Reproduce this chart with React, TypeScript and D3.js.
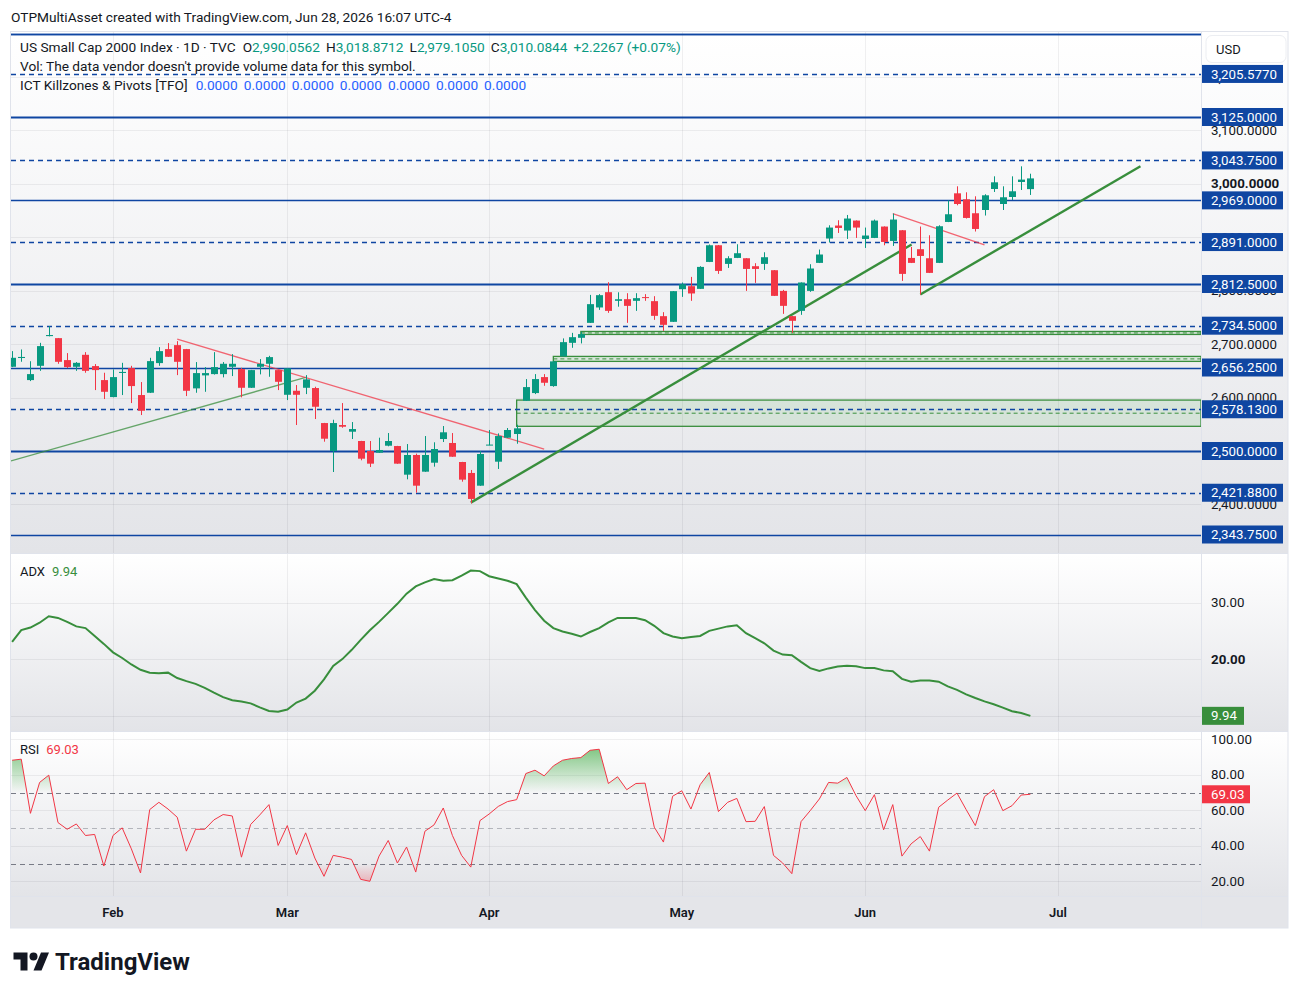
import React from "react";
import * as d3 from "d3";

// daily OHLC, Jan 15 – Jun 26
const open = [
  2657.6, 2674.0, 2632.7, 2659.4, 2715.0, 2711.2, 2670.1, 2657.6, 2680.0, 2658.9,
  2632.7, 2600.9, 2646.0, 2655.1, 2604.7, 2609.0, 2664.5, 2690.7, 2698.1, 2690.7,
  2617.2, 2641.5, 2643.9, 2643.9, 2657.6, 2653.3, 2618.3, 2657.6, 2663.2, 2651.4,
  2605.2, 2612.7, 2618.3, 2617.8, 2552.3, 2500.0, 2548.6, 2536.1, 2518.7, 2500.0,
  2496.8, 2509.9, 2509.3, 2455.7, 2492.5, 2461.3, 2478.1, 2522.4, 2515.0, 2479.4,
  2458.9, 2435.1, 2511.2, 2480.0, 2524.9, 2531.8, 2594.0, 2608.4, 2638.3, 2621.5,
  2677.0, 2702.4, 2711.8, 2739.8, 2768.6, 2797.2, 2781.0, 2784.1, 2781.0, 2788.0,
  2780.4, 2752.3, 2741.7, 2802.8, 2808.4, 2803.4, 2853.8, 2885.0, 2850.1, 2861.3,
  2860.7, 2845.8, 2850.1, 2838.3, 2799.6, 2752.3, 2762.2, 2799.6, 2852.0, 2897.6,
  2921.9, 2912.5, 2931.2, 2896.8, 2898.7, 2920.0, 2893.1, 2913.1, 2861.3, 2877.6,
  2860.7, 2852.0, 2928.6, 2982.2, 2971.0, 2944.9, 2951.0, 2990.3, 2962.2, 2975.3,
  3003.4, 2990.0562,
];
const high = [
  2686.9, 2690.0, 2668.0, 2702.4, 2733.6, 2711.5, 2683.2, 2666.4, 2685.0, 2662.6,
  2646.4, 2652.7, 2665.0, 2659.4, 2629.0, 2674.4, 2694.4, 2701.9, 2705.6, 2691.0,
  2666.4, 2657.0, 2685.0, 2666.4, 2681.3, 2655.7, 2651.8, 2672.0, 2678.1, 2651.8,
  2655.0, 2623.4, 2642.0, 2620.2, 2552.6, 2558.5, 2589.7, 2554.2, 2519.0, 2518.7,
  2524.9, 2533.6, 2509.6, 2513.0, 2495.0, 2528.0, 2516.3, 2546.7, 2533.6, 2479.7,
  2464.5, 2500.0, 2539.3, 2533.0, 2543.0, 2549.2, 2634.6, 2643.9, 2643.9, 2667.9,
  2710.7, 2721.1, 2723.0, 2792.1, 2793.5, 2815.9, 2797.0, 2795.3, 2795.3, 2793.5,
  2789.7, 2759.8, 2799.4, 2815.3, 2825.8, 2845.8, 2886.4, 2885.5, 2864.5, 2886.9,
  2861.0, 2851.4, 2871.9, 2838.6, 2801.5, 2752.6, 2815.5, 2849.5, 2877.0, 2922.4,
  2931.8, 2941.7, 2931.5, 2918.1, 2933.1, 2920.3, 2944.3, 2913.4, 2881.9, 2920.0,
  2903.7, 2922.4, 2969.2, 2995.3, 2984.1, 2976.6, 2980.4, 3014.0, 2995.3, 3014.0,
  3032.7, 3018.8712,
];
const low = [
  2657.0, 2667.0, 2630.8, 2650.0, 2714.5, 2663.2, 2655.1, 2650.0, 2646.4, 2614.0,
  2597.2, 2600.5, 2604.7, 2589.7, 2567.3, 2608.5, 2659.4, 2676.0, 2642.0, 2602.8,
  2609.0, 2610.8, 2643.0, 2637.8, 2640.2, 2600.4, 2617.9, 2643.4, 2638.9, 2614.0,
  2595.3, 2548.6, 2606.5, 2559.8, 2517.4, 2460.7, 2543.5, 2522.4, 2482.6, 2470.0,
  2496.4, 2508.8, 2476.0, 2447.0, 2422.0, 2461.0, 2470.7, 2516.8, 2489.0, 2442.6,
  2402.2, 2434.8, 2510.8, 2466.4, 2524.5, 2513.6, 2593.7, 2606.5, 2622.0, 2620.2,
  2676.7, 2693.1, 2701.3, 2739.5, 2764.1, 2758.5, 2770.0, 2739.8, 2762.2, 2781.0,
  2745.4, 2724.9, 2741.4, 2788.4, 2781.0, 2803.1, 2853.5, 2831.4, 2842.6, 2861.0,
  2799.6, 2814.6, 2838.9, 2790.0, 2756.6, 2721.1, 2754.8, 2797.8, 2851.7, 2890.1,
  2908.0, 2896.8, 2898.7, 2880.0, 2898.4, 2885.0, 2883.7, 2818.3, 2851.7, 2792.9,
  2833.0, 2851.7, 2928.3, 2959.8, 2935.0, 2910.7, 2940.6, 2984.7, 2951.0, 2969.7,
  2988.4, 2979.105,
];
const close = [
  2674.4, 2676.0, 2643.9, 2696.3, 2717.0, 2666.9, 2657.0, 2665.0, 2650.0, 2651.4,
  2610.8, 2638.3, 2648.0, 2621.5, 2575.3, 2668.2, 2686.9, 2676.3, 2666.9, 2612.7,
  2645.8, 2645.8, 2657.0, 2663.2, 2663.2, 2618.3, 2651.4, 2663.2, 2675.7, 2629.5,
  2654.6, 2605.2, 2634.0, 2582.8, 2523.0, 2552.3, 2545.4, 2541.1, 2485.6, 2476.3,
  2501.9, 2518.7, 2476.3, 2492.5, 2435.1, 2492.5, 2503.7, 2535.0, 2489.3, 2446.4,
  2410.3, 2494.4, 2512.0, 2528.0, 2539.3, 2542.4, 2619.6, 2634.6, 2627.7, 2667.7,
  2703.7, 2713.0, 2718.7, 2774.8, 2791.6, 2762.2, 2784.0, 2771.6, 2786.0, 2787.0,
  2752.9, 2736.1, 2799.1, 2812.1, 2794.8, 2844.5, 2885.0, 2837.0, 2860.7, 2870.1,
  2840.7, 2840.7, 2862.6, 2790.3, 2771.6, 2743.6, 2815.3, 2841.5, 2867.7, 2918.1,
  2917.4, 2935.0, 2918.1, 2903.2, 2931.2, 2891.2, 2933.1, 2831.4, 2852.0, 2865.0,
  2833.3, 2920.6, 2943.0, 2962.2, 2936.1, 2915.5, 2978.5, 3002.8, 2974.8, 2986.0,
  3007.8577, 3010.0844,
];

const adx = [
  23.05, 25.15, 25.6, 26.45, 27.6, 27.3, 26.6, 25.8, 25.5, 24.1,
  22.7, 21.2, 20.2, 19.05, 18.1, 17.6, 17.5, 17.6, 16.65, 16.1,
  15.6, 14.9, 14.05, 13.25, 12.7, 12.5, 12.15, 11.45, 10.8, 10.65,
  11.05, 12.3, 13.0, 14.4, 16.4, 18.8, 20.0, 21.6, 23.4, 25.1,
  26.6, 28.2, 29.8, 31.6, 32.9, 33.6, 34.2, 33.9, 34.0, 34.8,
  35.7, 35.6, 34.7, 34.3, 33.9, 33.3, 30.9, 28.7, 26.8, 25.5,
  24.9, 24.5, 24.0, 24.8, 25.5, 26.5, 27.3, 27.3, 27.3, 26.9,
  25.9, 24.6, 24.0, 23.7, 23.9, 24.1, 25.0, 25.4, 25.8, 26.0,
  24.6, 23.7, 22.8, 21.5, 20.8, 20.7, 19.5, 18.4, 17.9, 18.35,
  18.7, 18.8, 18.75, 18.4, 18.4, 18.0, 17.85, 16.5, 16.0, 16.2,
  16.2, 16.0, 15.15, 14.55, 13.75, 13.1, 12.5, 12.0, 11.4, 10.75,
  10.45, 9.94,
];

const rsi = [
  88.2, 88.8, 58.3, 75.7, 79.8, 53.1, 49.3, 52.3, 45.8, 46.4,
  28.6, 45.8, 50.1, 38.3, 24.7, 60.4, 64.5, 60.7, 56.1, 37.0,
  49.3, 49.3, 54.6, 57.6, 56.8, 33.6, 52.0, 57.4, 63.2, 40.2,
  51.4, 35.0, 47.3, 33.1, 22.8, 34.6, 33.6, 32.3, 21.1, 20.0,
  34.2, 43.0, 30.3, 39.3, 25.2, 48.2, 51.8, 61.3, 45.8, 34.6,
  28.0, 54.2, 57.9, 62.2, 64.9, 66.0, 80.7, 82.6, 79.4, 85.0,
  88.2, 89.2, 89.7, 93.8, 94.4, 75.1, 78.9, 71.6, 75.1, 75.3,
  50.5, 42.1, 67.9, 71.0, 60.7, 74.4, 81.3, 59.3, 64.5, 66.7,
  53.6, 53.8, 62.1, 34.6, 30.3, 24.3, 53.6, 59.8, 66.4, 75.7,
  75.3, 78.5, 68.2, 59.8, 68.8, 49.0, 63.2, 34.2, 41.1, 45.2,
  37.0, 61.7, 65.8, 69.7, 60.4, 51.4, 67.7, 71.6, 59.8, 62.6,
  68.6, 69.03,
];

// month labels and the bar index of each month's first session
const months = ["Feb", "Mar", "Apr", "May", "Jun", "Jul"];
const monthBars = [11, 30, 52, 73, 93, 114];

// pivot levels (ICT Killzones & Pivots)
const pivotLevels = [
  3281.25, 3205.577, 3125, 3043.75, 2969, 2891, 2812.5, 2734.5, 2656.25,
  2578.13, 2500, 2421.88, 2343.75,
];

const priceTicks = [2400, 2500, 2600, 2700, 2800, 2900, 3000, 3100, 3200];
const adxTicks = [10, 20, 30, 40];
const rsiTicks = [20, 40, 60, 80, 100];
const rsiBands = [70, 50, 30];

// fair value gaps: first bar, top, bottom
const gapStart = [55, 59, 62];
const gapTop = [2595.3, 2677.0, 2723.7];
const gapBottom = [2546.2, 2667.7, 2718.1];

// drawn trend lines: [bar, price] -> [bar, price]
const trendLines = [
  { kind: "support-old", a: [-0.12, 2481.3], b: [32.0, 2637.8] },
  { kind: "resistance", a: [18, 2709.3], b: [58, 2503.7] },
  { kind: "support", a: [50, 2403.4], b: [98.05, 2886.4] },
  { kind: "resistance", a: [96, 2944.3], b: [106, 2885.6] },
  { kind: "support", a: [99, 2792.9], b: [123, 3032.7] },
];

const UP = "#089981";
const DOWN = "#f23645";
const LEVEL = "#0f46a2";
const GREEN = "#388e3c";
const TEXT = "#131722";
const GRID = "rgba(42,46,57,0.07)";
const BORDER = "#e0e3eb";
const FONT = "Roboto, 'Noto Sans', sans-serif";
const LEGEND_SIZE = 13.7;

const left = 11;
const right = 1201;
const mainTop = 32;
const mainBottom = 553;
const adxTop = 554;
const adxBottom = 731;
const rsiTop = 732;
const rsiBottom = 896;
const axisBottom = 928;
const frameRight = 1288;

export default function App() {
  const n = close.length;
  const x = d3.scaleLinear().domain([-0.12, 129.6]).range([left, right]);
  const yP = d3.scaleLinear().domain([2500, 3125]).range([451, 117]);
  const yA = d3.scaleLinear().domain([10, 30]).range([715.5, 602.7]);
  const yR = d3.scaleLinear().domain([20, 100]).range([881.3, 739.3]);
  const idx = d3.range(n);
  const bodyW = 7;

  const fmt4 = d3.format(",.4f");
  const fmt2 = d3.format(".2f");
  const last = n - 1;
  const chg = close[last] - close[last - 1];
  const chgPct = (chg / close[last - 1]) * 100;

  const adxLine = d3
    .line<number>()
    .x((i) => x(i))
    .y((i) => yA(adx[i]))(idx);
  const rsiLine = d3
    .line<number>()
    .x((i) => x(i))
    .y((i) => yR(rsi[i]))(idx);
  const rsiOver = d3
    .area<number>()
    .x((i) => x(i))
    .y0(yR(70))
    .y1((i) => yR(rsi[i]))(idx);
  const rsiUnder = d3
    .area<number>()
    .x((i) => x(i))
    .y0(yR(30))
    .y1((i) => yR(rsi[i]))(idx);

  const paneBg = (y0: number, y1: number) => (
    <rect x={left - 1} y={y0} width={frameRight - left + 1} height={y1 - y0} fill="url(#paneGrad)" />
  );

  const valueBox = (y: number, label: string, fill: string, w = 81) => (
    <g key={label + y}>
      <rect x={1202} y={y - 9} width={w} height={18} fill={fill} />
      <text x={1211} y={y} dy="0.35em" fill="#fff" fontSize={13.3}>
        {label}
      </text>
    </g>
  );

  return (
    <div style={{ position: "absolute", left: 0, top: 0 }}>
      <svg width={1299} height={996} style={{ display: "block", fontFamily: FONT }}>
        <defs>
          <linearGradient id="paneGrad" x1="0" y1="0" x2="0" y2="1">
            <stop offset="0" stopColor="#ffffff" />
            <stop offset="1" stopColor="#e3e4e8" />
          </linearGradient>
          <linearGradient id="overGrad" gradientUnits="userSpaceOnUse" x1="0" y1={yR(100)} x2="0" y2={yR(70)}>
            <stop offset="0" stopColor="#4caf50" stopOpacity={0.85} />
            <stop offset="1" stopColor="#4caf50" stopOpacity={0} />
          </linearGradient>
          <linearGradient id="underGrad" gradientUnits="userSpaceOnUse" x1="0" y1={yR(30)} x2="0" y2={yR(0)}>
            <stop offset="0" stopColor="#f23645" stopOpacity={0} />
            <stop offset="1" stopColor="#f23645" stopOpacity={0.85} />
          </linearGradient>
          <clipPath id="mainClip">
            <rect x={left} y={mainTop} width={right - left} height={mainBottom - mainTop} />
          </clipPath>
          <clipPath id="adxClip">
            <rect x={left} y={adxTop} width={right - left} height={adxBottom - adxTop} />
          </clipPath>
          <clipPath id="overClip">
            <rect x={left} y={rsiTop} width={right - left} height={yR(70) - rsiTop} />
          </clipPath>
          <clipPath id="underClip">
            <rect x={left} y={yR(30)} width={right - left} height={rsiBottom - yR(30)} />
          </clipPath>
        </defs>

        <rect width={1299} height={996} fill="#fff" />

        <text x={11} y={17} dy="0.35em" fontSize={LEGEND_SIZE} fill={TEXT}>
          OTPMultiAsset created with TradingView.com, Jun 28, 2026 16:07 UTC-4
        </text>

        {/* pane backgrounds */}
        {paneBg(mainTop, mainBottom)}
        {paneBg(adxTop, adxBottom)}
        {paneBg(rsiTop, rsiBottom)}
        <rect x={left - 1} y={rsiBottom} width={frameRight - left + 1} height={axisBottom - rsiBottom} fill="#e4e5e9" />

        {/* grid */}
        <g stroke={GRID} strokeWidth={1}>
          {monthBars.map((b) => (
            <line key={b} x1={Math.round(x(b)) + 0.5} x2={Math.round(x(b)) + 0.5} y1={mainTop} y2={rsiBottom} />
          ))}
          {priceTicks.map((t) => (
            <line key={t} x1={left} x2={right} y1={Math.round(yP(t)) + 0.5} y2={Math.round(yP(t)) + 0.5} />
          ))}
          {adxTicks
            .filter((t) => yA(t) > adxTop)
            .map((t) => (
              <line key={t} x1={left} x2={right} y1={Math.round(yA(t)) + 0.5} y2={Math.round(yA(t)) + 0.5} />
            ))}
          {rsiTicks.map((t) => (
            <line key={t} x1={left} x2={right} y1={Math.round(yR(t)) + 0.5} y2={Math.round(yR(t)) + 0.5} />
          ))}
        </g>

        {/* main pane */}
        <g clipPath="url(#mainClip)">
          {gapStart.map((s, k) => (
            <g key={s}>
              <rect
                x={x(s)}
                y={yP(gapTop[k])}
                width={right - x(s)}
                height={yP(gapBottom[k]) - yP(gapTop[k])}
                fill="rgba(76,175,80,0.13)"
                stroke={GREEN}
                strokeWidth={1.3}
              />
              <line
                x1={x(s)}
                x2={right}
                y1={yP((gapTop[k] + gapBottom[k]) / 2)}
                y2={yP((gapTop[k] + gapBottom[k]) / 2)}
                stroke={GREEN}
                strokeWidth={1}
                strokeDasharray="4 3"
              />
            </g>
          ))}

          {pivotLevels.map((p, k) => {
            const dashed = k % 2 === 1;
            const thick = k % 4 === 2;
            const y = Math.round(yP(p)) + 0.5;
            return (
              <line
                key={p}
                x1={left}
                x2={right}
                y1={y}
                y2={y}
                stroke={LEVEL}
                strokeWidth={thick ? 2 : 1.3}
                strokeDasharray={dashed ? "5 4" : undefined}
              />
            );
          })}

          {trendLines.map((t, k) => {
            const style =
              t.kind === "resistance"
                ? { stroke: "#f23645", width: 1.3, opacity: 0.75 }
                : t.kind === "support"
                ? { stroke: GREEN, width: 2.4, opacity: 1 }
                : { stroke: GREEN, width: 1.3, opacity: 0.75 };
            return (
              <line
                key={k}
                x1={x(t.a[0])}
                y1={yP(t.a[1])}
                x2={x(t.b[0])}
                y2={yP(t.b[1])}
                stroke={style.stroke}
                strokeWidth={style.width}
                strokeOpacity={style.opacity}
              />
            );
          })}

          {idx.map((i) => {
            const up = close[i] >= open[i];
            const c = up ? UP : DOWN;
            const cx = Math.round(x(i));
            const yTop = yP(Math.max(open[i], close[i]));
            const yBot = yP(Math.min(open[i], close[i]));
            return (
              <g key={i}>
                <line x1={cx + 0.5} x2={cx + 0.5} y1={yP(high[i])} y2={yP(low[i])} stroke={c} strokeWidth={1} />
                <rect x={cx + 0.5 - bodyW / 2} y={yTop} width={bodyW} height={Math.max(1, yBot - yTop)} fill={c} />
              </g>
            );
          })}
        </g>

        {/* legend */}
        <text x={20} y={47} dy="0.35em" fontSize={LEGEND_SIZE} fill={TEXT}>
          <tspan>US Small Cap 2000 Index · 1D · TVC</tspan>
          <tspan dx={7}>O</tspan>
          <tspan fill={UP}>{fmt4(open[last])}</tspan>
          <tspan dx={6}>H</tspan>
          <tspan fill={UP}>{fmt4(high[last])}</tspan>
          <tspan dx={6}>L</tspan>
          <tspan fill={UP}>{fmt4(low[last])}</tspan>
          <tspan dx={6}>C</tspan>
          <tspan fill={UP}>{fmt4(close[last])}</tspan>
          <tspan dx={6} fill={UP}>
            {d3.format("+.4f")(chg)} ({d3.format("+.2f")(chgPct)}%)
          </tspan>
        </text>
        <text x={20} y={66} dy="0.35em" fontSize={LEGEND_SIZE} fill={TEXT}>
          Vol: The data vendor doesn't provide volume data for this symbol.
        </text>
        <text x={20} y={85} dy="0.35em" fontSize={LEGEND_SIZE} fill={TEXT}>
          <tspan>ICT Killzones &amp; Pivots [TFO]</tspan>
          {d3.range(7).map((k) => (
            <tspan key={k} dx={k === 0 ? 8 : 6} fill="#2962ff">
              0.0000
            </tspan>
          ))}
        </text>

        {/* ADX pane */}
        <path d={adxLine ?? ""} fill="none" stroke={GREEN} strokeWidth={2} clipPath="url(#adxClip)" />
        <text x={20} y={571} dy="0.35em" fontSize={13} fill={TEXT}>
          ADX<tspan dx={7} fill={GREEN}>{fmt2(adx[last])}</tspan>
        </text>

        {/* RSI pane */}
        <path d={rsiOver ?? ""} fill="url(#overGrad)" clipPath="url(#overClip)" />
        <path d={rsiUnder ?? ""} fill="url(#underGrad)" clipPath="url(#underClip)" />
        {rsiBands.map((b) => (
          <line
            key={b}
            x1={left}
            x2={right}
            y1={Math.round(yR(b)) + 0.5}
            y2={Math.round(yR(b)) + 0.5}
            stroke={b === 50 ? "rgba(120,123,134,0.5)" : "#787b86"}
            strokeDasharray="5 4"
            strokeWidth={1}
          />
        ))}
        <path d={rsiLine ?? ""} fill="none" stroke={DOWN} strokeWidth={1} />
        <text x={20} y={749} dy="0.35em" fontSize={13} fill={TEXT}>
          RSI<tspan dx={7} fill={DOWN}>{fmt2(rsi[last])}</tspan>
        </text>

        {/* time axis */}
        {months.map((m, k) => (
          <text key={m} x={x(monthBars[k])} y={912} dy="0.35em" textAnchor="middle" fontSize={13} fontWeight={600} fill={TEXT}>
            {m}
          </text>
        ))}

        {/* separators and frame */}
        <g stroke={BORDER} strokeWidth={1}>
          <line x1={left - 1} x2={frameRight} y1={mainBottom + 0.5} y2={mainBottom + 0.5} />
          <line x1={left - 1} x2={frameRight} y1={adxBottom + 0.5} y2={adxBottom + 0.5} />
          <line x1={left - 1} x2={frameRight} y1={rsiBottom + 0.5} y2={rsiBottom + 0.5} />
          <line x1={right + 0.5} x2={right + 0.5} y1={mainTop} y2={axisBottom} />
          <rect x={left - 0.5} y={mainTop - 0.5} width={frameRight - left + 0.5} height={axisBottom - mainTop + 0.5} fill="none" />
        </g>
        <line x1={left} x2={right} y1={Math.round(yP(pivotLevels[0])) + 0.5} y2={Math.round(yP(pivotLevels[0])) + 0.5} stroke={LEVEL} strokeWidth={1.3} />

        {/* price axis */}
        <g fontSize={13.3} fill={TEXT}>
          {priceTicks.map((t) => (
            <text key={t} x={1211} y={yP(t)} dy="0.35em" fontWeight={t === 3000 ? 700 : 400}>
              {fmt4(t)}
            </text>
          ))}
          {adxTicks
            .filter((t) => yA(t) > adxTop + 8 && t !== 10)
            .map((t) => (
              <text key={t} x={1211} y={yA(t)} dy="0.35em" fontWeight={t === 20 ? 700 : 400}>
                {fmt2(t)}
              </text>
            ))}
          {rsiTicks.map((t) => (
            <text key={t} x={1211} y={yR(t)} dy="0.35em">
              {fmt2(t)}
            </text>
          ))}
        </g>
        {pivotLevels
          .filter((p) => yP(p) > mainTop + 20)
          .map((p) => valueBox(yP(p), fmt4(p), LEVEL))}
        {valueBox(yA(adx[last]), fmt2(adx[last]), GREEN, 42)}
        {valueBox(yR(rsi[last]), fmt2(rsi[last]), DOWN, 48)}

        <rect x={1206} y={35.5} width={80} height={27} rx={6} fill="#fff" stroke="#eceef2" />
        <text x={1216} y={49} dy="0.35em" fontSize={13} fill={TEXT}>
          USD
        </text>

        {/* logo */}
        <g transform="translate(13.5,948.5)" fill={TEXT}>
          <path d="M14 22H7V11H0V4h14v18zM28 22h-8l7.5-18h8L28 22z" />
          <circle cx={20} cy={8} r={4} />
        </g>
        <text x={55} y={970} fontSize={24} fontWeight={700} fill={TEXT}>
          TradingView
        </text>
      </svg>
    </div>
  );
}
